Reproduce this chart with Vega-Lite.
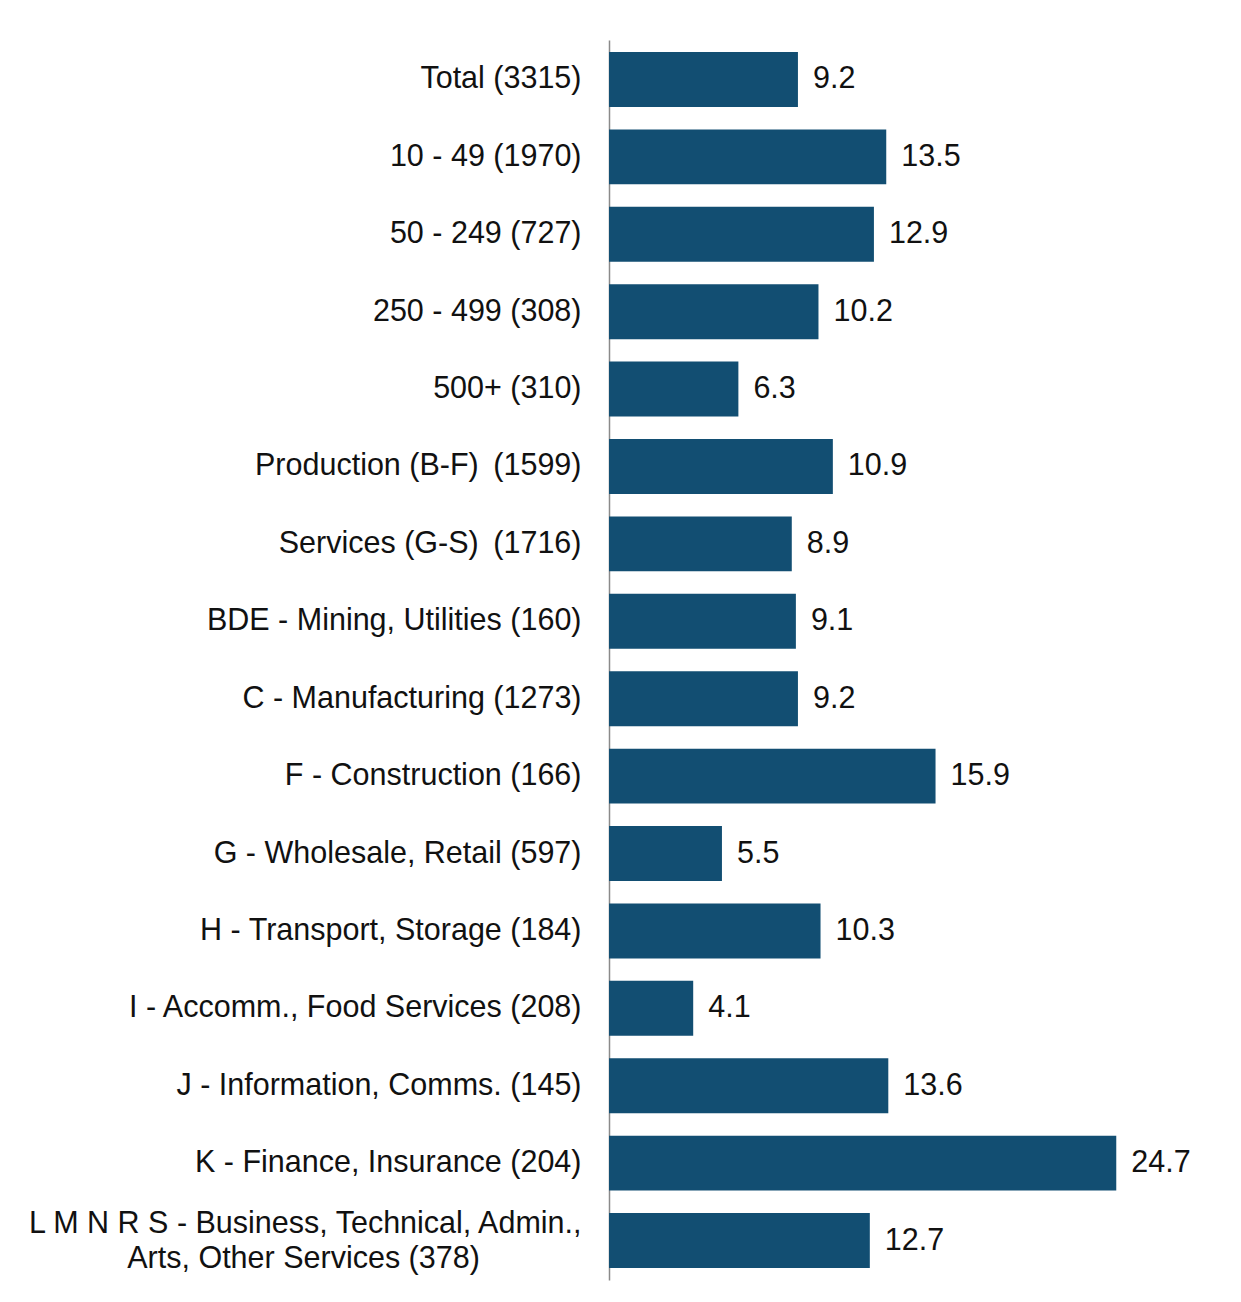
{
  "$schema": "https://vega.github.io/schema/vega-lite/v6.json",
  "autosize": {"type": "none"},
  "padding": {"left": 609, "top": 40, "right": 20, "bottom": 22},
  "width": 612,
  "height": 1240,
  "background": "white",
  "config": {"view": {"stroke": null}, "font": "Liberation Sans"},
  "data": {
    "values": [
      {"category": "Total (3315)", "value": 9.2},
      {"category": "10 - 49 (1970)", "value": 13.5},
      {"category": "50 - 249 (727)", "value": 12.9},
      {"category": "250 - 499 (308)", "value": 10.2},
      {"category": "500+ (310)", "value": 6.3},
      {"category": "Production (B-F)  (1599)", "value": 10.9},
      {"category": "Services (G-S)  (1716)", "value": 8.9},
      {"category": "BDE - Mining, Utilities (160)", "value": 9.1},
      {"category": "C - Manufacturing (1273)", "value": 9.2},
      {"category": "F - Construction (166)", "value": 15.9},
      {"category": "G - Wholesale, Retail (597)", "value": 5.5},
      {"category": "H - Transport, Storage (184)", "value": 10.3},
      {"category": "I - Accomm., Food Services (208)", "value": 4.1},
      {"category": "J - Information, Comms. (145)", "value": 13.6},
      {"category": "K - Finance, Insurance (204)", "value": 24.7},
      {"category": "L M N R S - Business, Technical, Admin., Arts, Other Services (378)", "value": 12.7}
    ]
  },
  "encoding": {
    "y": {
      "field": "category",
      "type": "nominal",
      "sort": null,
      "scale": {"paddingInner": 0.29, "paddingOuter": 0.155},
      "axis": {
        "title": null,
        "ticks": false,
        "domainColor": "#8a8a8a",
        "domainWidth": 1.5,
        "labelFontSize": 30.5,
        "labelColor": "#111111",
        "labelPadding": 28,
        "labelLimit": 700,
        "labelLineHeight": 35,
        "labelOffset": {"condition": {"test": "indexof(datum.value, 'Admin.,') > 0", "value": -17}, "value": 0},
        "labelExpr": "indexof(datum.label, 'Admin.,') > 0 ? [substring(datum.label, 0, indexof(datum.label, 'Admin.,') + 7), substring(datum.label, indexof(datum.label, 'Admin.,') + 8) + '\u00a0\u00a0\u00a0\u00a0\u00a0\u00a0\u00a0\u00a0\u00a0\u00a0\u00a0\u00a0\u200b'] : replace(datum.label, '  ', ' \u2009')"
      }
    },
    "x": {
      "field": "value",
      "type": "quantitative",
      "scale": {"domain": [0, 29.8]},
      "axis": null
    }
  },
  "layer": [
    {"mark": {"type": "bar", "color": "#124E72"}},
    {
      "mark": {"type": "text", "align": "left", "baseline": "middle", "dx": 15, "fontSize": 30.5, "color": "#111111"},
      "encoding": {"text": {"field": "value", "type": "quantitative", "format": ".1f"}}
    }
  ]
}
